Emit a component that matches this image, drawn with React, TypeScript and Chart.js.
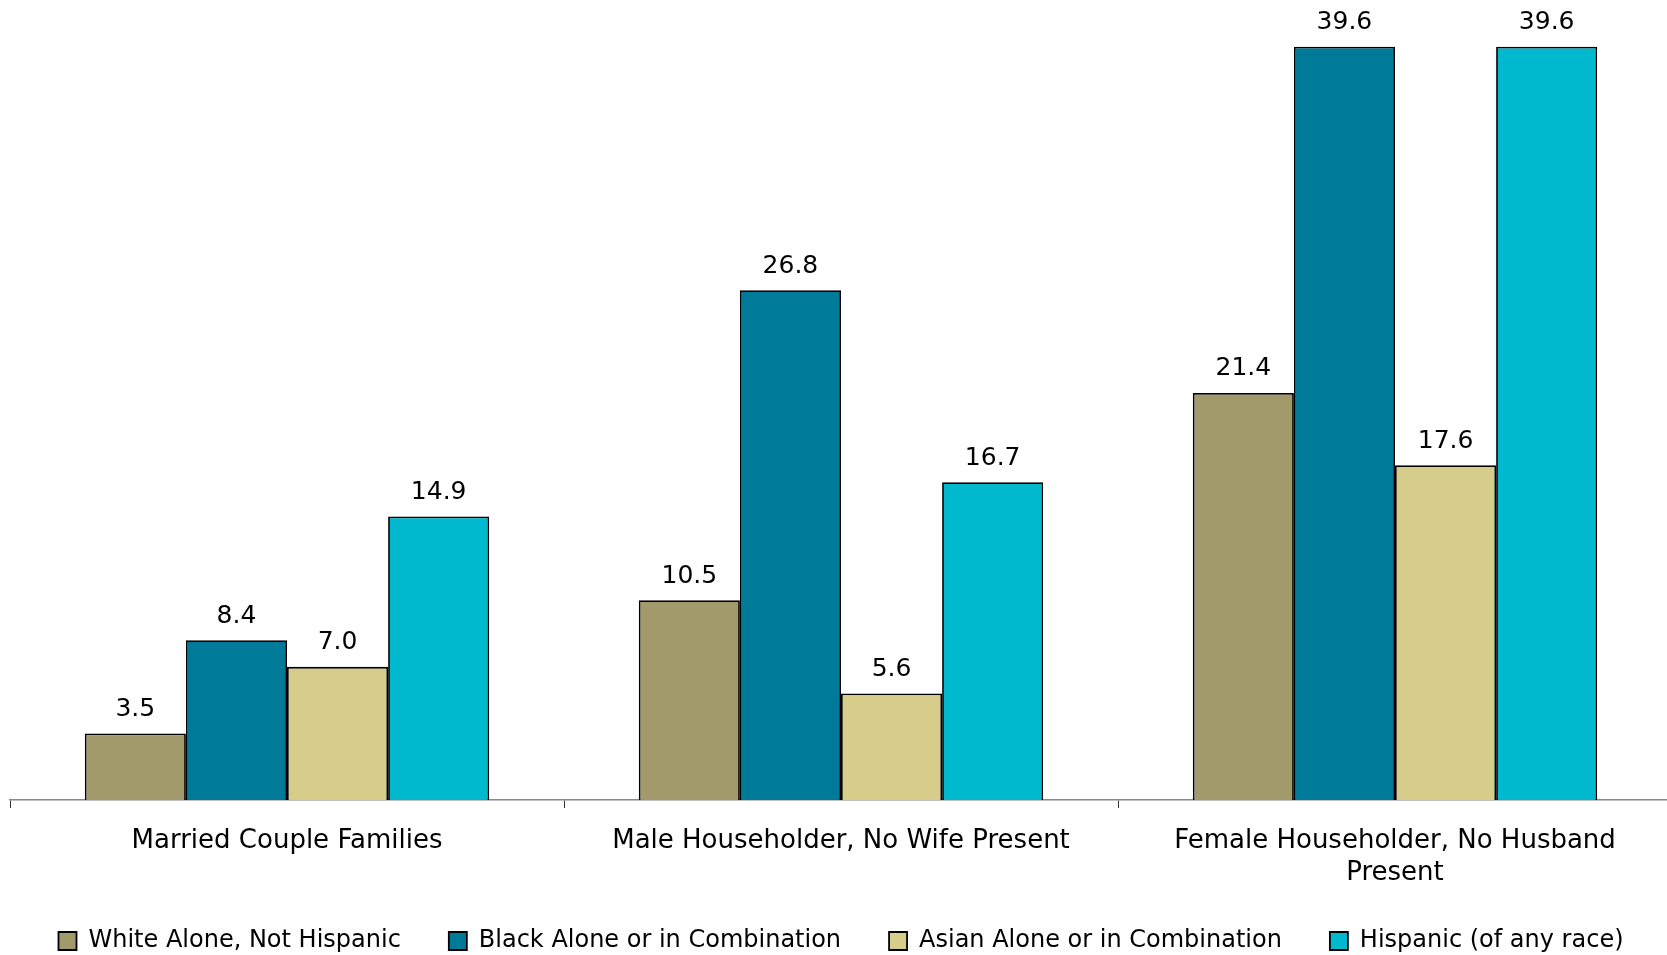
import React, { useEffect, useRef } from "react";
import { Chart, registerables } from "chart.js";

Chart.register(...registerables);

const categories: string[][] = [
  ["Married Couple Families"],
  ["Male Householder, No Wife Present"],
  ["Female Householder, No Husband", "Present"],
];

const seriesNames = [
  "White Alone, Not Hispanic",
  "Black Alone or in Combination",
  "Asian Alone or in Combination",
  "Hispanic (of any race)",
];

const whiteValues = [3.5, 10.5, 21.4];
const blackValues = [8.4, 26.8, 39.6];
const asianValues = [7.0, 5.6, 17.6];
const hispanicValues = [14.9, 16.7, 39.6];

const seriesColors = ["#A39A6B", "#007A99", "#D6CD8A", "#00B9CF"];

const valueLabels = {
  id: "valueLabels",
  afterDatasetsDraw(chart: any) {
    const ctx = chart.ctx;
    ctx.save();
    ctx.font = "25px 'DejaVu Sans'";
    ctx.fillStyle = "#000";
    ctx.textAlign = "center";
    ctx.textBaseline = "middle";
    chart.data.datasets.forEach((ds: any, i: number) => {
      const meta = chart.getDatasetMeta(i);
      meta.data.forEach((el: any, j: number) => {
        const v = ds.data[j] as number;
        ctx.fillText(v.toFixed(1), el.x, el.y - 24);
      });
    });
    ctx.restore();
  },
};

export default function App() {
  const ref = useRef<HTMLCanvasElement | null>(null);
  useEffect(() => {
    if (!ref.current) return;
    const all = [whiteValues, blackValues, asianValues, hispanicValues];
    const chart = new Chart(ref.current, {
      type: "bar",
      data: {
        labels: categories,
        datasets: all.map((d, i) => ({
          label: seriesNames[i],
          data: d,
          backgroundColor: seriesColors[i],
          borderColor: "#000",
          borderWidth: 1.8,
          barPercentage: 1,
          categoryPercentage: 0.73,
        })),
      },
      options: {
        responsive: false,
        maintainAspectRatio: false,
        animation: false,
        layout: { padding: { top: 20, left: 10, right: 1, bottom: 0 } },
        plugins: {
          tooltip: { enabled: false },
          legend: {
            position: "bottom",
            labels: {
              boxWidth: 18,
              boxHeight: 18,
              padding: 48,
              color: "#000",
              font: { family: "'DejaVu Sans'", size: 24 },
            },
          },
        },
        scales: {
          x: {
            afterFit: (scale: any) => {
              scale.height = 81;
            },
            grid: {
              display: true,
              drawOnChartArea: false,
              drawTicks: true,
              tickLength: 8,
              color: "#333",
              lineWidth: 1,
            },
            border: { display: true, color: "#888", width: 1.5 },
            ticks: {
              color: "#000",
              padding: 17,
              font: { family: "'DejaVu Sans'", size: 26, lineHeight: 1.23 },
              maxRotation: 0,
              autoSkip: false,
            },
          },
          y: {
            display: false,
            min: 0,
            max: 41,
          },
        },
      },
      plugins: [valueLabels],
    });
    return () => chart.destroy();
  }, []);
  return (
    <div style={{ position: "fixed", left: 0, top: 0, width: 1673, height: 963, overflow: "hidden", background: "#fff" }}>
      <canvas ref={ref} width={1673} height={963} style={{ display: "block" }} />
    </div>
  );
}
